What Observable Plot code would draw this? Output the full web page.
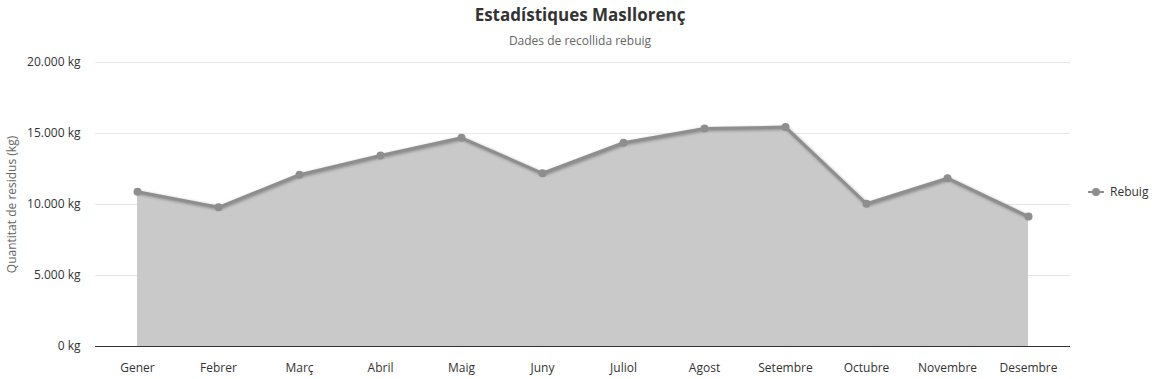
<!DOCTYPE html>
<html>
<head>
<meta charset="utf-8">
<script src="https://cdn.jsdelivr.net/npm/d3@7"></script>
<script src="https://cdn.jsdelivr.net/npm/@observablehq/plot@0.6"></script>
<style>
  html, body { margin: 0; padding: 0; background: #fff; }
  body { width: 1160px; height: 379px; position: relative; overflow: hidden; font-family: "Open Sans", sans-serif; }
  #title { position: absolute; left: 0; width: 1160px; top: 3px; text-align: center; font-size: 17px; font-weight: 700; color: #333; }
  #subtitle { position: absolute; left: 0; width: 1160px; top: 32px; text-align: center; font-size: 12px; color: #666; }
  #chart { position: absolute; left: 0; top: 50px; }
  #legend { position: absolute; left: 1088px; top: 183px; font-size: 12px; color: #333; display: flex; align-items: center; }
  #chart g[aria-label="line"] path { filter: drop-shadow(1px 1px 1.5px rgba(0,0,0,0.35)); }
</style>
</head>
<body>
<div id="title">Estadístiques Masllorenç</div>
<div id="subtitle">Dades de recollida rebuig</div>
<div id="chart"></div>
<div id="legend">
  <svg width="18" height="12" style="margin-right:4px"><line x1="0" y1="6" x2="16" y2="6" stroke="#8e8e8e" stroke-width="2"/><circle cx="8" cy="6" r="4" fill="#8e8e8e"/></svg>
  <span>Rebuig</span>
</div>
<script>
const months = ["Gener","Febrer","Març","Abril","Maig","Juny","Juliol","Agost","Setembre","Octubre","Novembre","Desembre"];
const rebuig = [10900, 9800, 12100, 13450, 14700, 12200, 14350, 15350, 15450, 10050, 11850, 9150];
const yTicks = [0, 5000, 10000, 15000, 20000];
const seriesName = "Rebuig";

const data = months.map((m, i) => ({month: m, value: rebuig[i]}));
const loc = d3.formatLocale({decimal: ",", thousands: ".", grouping: [3], currency: ["", ""]});
const fmt = loc.format(",");

const chart = Plot.plot({
  width: 1160,
  height: 329,
  marginTop: 12,
  marginBottom: 33,
  marginLeft: 95,
  marginRight: 90,
  style: {fontFamily: "Open Sans, sans-serif", fontSize: "12px", color: "#333", background: "transparent"},
  x: {type: "point", domain: months, padding: 0.5, label: null},
  y: {domain: [0, 20000], label: null},
  marks: [
    Plot.gridY(yTicks.filter(d => d > 0), {stroke: "#e6e6e6", strokeOpacity: 1}),
    Plot.areaY(data, {x: "month", y: "value", fill: "#c9c9c9", fillOpacity: 1}),
    Plot.lineY(data, {x: "month", y: "value", stroke: "#8e8e8e", strokeWidth: 3}),
    Plot.dot(data, {x: "month", y: "value", r: 4, fill: "#8e8e8e", stroke: "none"}),
    Plot.ruleY([0], {stroke: "#333", strokeWidth: 1}),
    Plot.axisY({ticks: yTicks, tickSize: 0, tickPadding: 15, tickFormat: d => fmt(d) + " kg", fill: "#333",
      label: "Quantitat de residus (kg)", labelAnchor: "center", labelArrow: "none", labelOffset: 88}),
    Plot.axisX({tickSize: 0, tickPadding: 17, fill: "#333", label: null})
  ]
});
document.getElementById("chart").appendChild(chart);
// style axis label colour
chart.querySelectorAll('g[aria-label="y-axis label"] text').forEach(t => t.setAttribute("fill", "#666"));
</script>
</body>
</html>
